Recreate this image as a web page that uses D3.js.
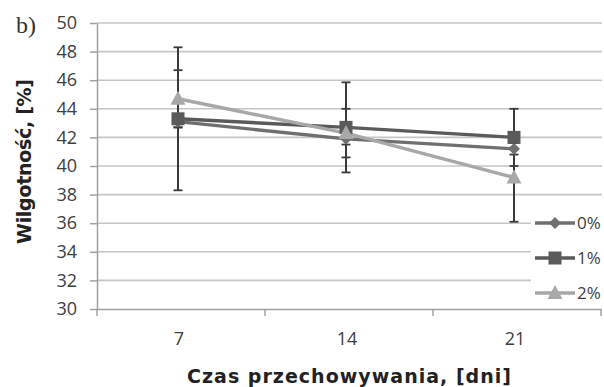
<!DOCTYPE html>
<html><head><meta charset="utf-8">
<script src="https://cdn.jsdelivr.net/npm/d3@7"></script>
<style>body{margin:0;background:#fff;} svg{display:block;}</style>
</head><body>
<svg id="c" width="604" height="387"></svg>
<script>
const categories = ["7", "14", "21"];
const yTicks = [30, 32, 34, 36, 38, 40, 42, 44, 46, 48, 50];
const seriesNames = ["0%", "1%", "2%"];
const values0 = [43.1, 41.9, 41.2];
const values1 = [43.3, 42.7, 42.0];
const values2 = [44.7, 42.3, 39.2];
const errors0 = [0.4, 0.4, 0.4];
const errors1 = [5.0, 3.15, 2.0];
const errors2 = [2.0, 1.7, 3.1];

const series = [
  {name: seriesNames[0], values: values0, errors: errors0, color: "#6f6f6f", shape: "diamond"},
  {name: seriesNames[1], values: values1, errors: errors1, color: "#5a5a5a", shape: "square"},
  {name: seriesNames[2], values: values2, errors: errors2, color: "#a8a8a8", shape: "triangle"}
];

const svg = d3.select("#c");
const L = 97, R = 602, T = 23, B = 309;
const x = d3.scaleBand().domain(categories).range([L, R - 1]).padding(0);
const y = d3.scaleLinear().domain([30, 50]).range([B, T]);
const cx = c => x(c) + x.bandwidth() / 2 - 3;
const tickFont = "Open Sans, DejaVu Sans, sans-serif";

// gridlines
svg.append("g").selectAll("line").data(yTicks.filter(t => t > 30)).join("line")
  .attr("x1", L).attr("x2", R).attr("y1", d => y(d)).attr("y2", d => y(d))
  .attr("stroke", "#c6c6c6").attr("stroke-width", 1.6);

// axes
const yAxis = d3.axisLeft(y).tickValues(yTicks).tickSize(7).tickSizeOuter(0);
const gy = svg.append("g").attr("transform", `translate(${L},0)`).call(yAxis);
gy.select(".domain").attr("stroke", "#a0a0a0").attr("stroke-width", 1.5);
gy.selectAll(".tick line").attr("stroke", "#a0a0a0").attr("stroke-width", 1.5);
gy.selectAll(".tick text").attr("x", -20).attr("font-family", tickFont)
  .attr("font-size", 18).attr("fill", "#404040");

const xAxis = d3.axisBottom(x).tickSize(0).tickSizeOuter(0);
const gx = svg.append("g").attr("transform", `translate(0,${B})`).call(xAxis);
gx.select(".domain").attr("stroke", "#a0a0a0").attr("stroke-width", 1.5);
gx.selectAll(".tick text").attr("dy", "0.35em").attr("y", 30).attr("font-family", tickFont)
  .attr("font-size", 18).attr("fill", "#404040").attr("x", -2);
// category boundary ticks
const bounds = categories.map(c => x(c)).concat([x(categories[categories.length-1]) + x.bandwidth()]);
svg.append("g").selectAll("line").data(bounds).join("line")
  .attr("x1", d => d).attr("x2", d => d).attr("y1", B).attr("y2", B + 7)
  .attr("stroke", "#a0a0a0").attr("stroke-width", 1.5);

// legend background
svg.append("rect").attr("x", 531).attr("y", 203).attr("width", 73).attr("height", 101).attr("fill", "#fff");

function marker(g, shape, color, px, py) {
  if (shape === "diamond") {
    g.append("path").attr("d", d3.symbol(d3.symbolDiamond2, 90)()).attr("transform", `translate(${px},${py})`).attr("fill", color);
  } else if (shape === "square") {
    g.append("rect").attr("x", px - 6.5).attr("y", py - 6.5).attr("width", 13).attr("height", 13).attr("fill", color);
  } else {
    g.append("path").attr("d", `M${px},${py-8}L${px+7.5},${py+6}L${px-7.5},${py+6}Z`).attr("fill", color);
  }
}

// error bars
const eg = svg.append("g");
series.forEach(s => {
  s.values.forEach((v, i) => {
    const px = cx(categories[i]);
    const e = s.errors[i];
    eg.append("line").attr("x1", px).attr("x2", px).attr("y1", y(v + e)).attr("y2", y(v - e))
      .attr("stroke", "#3a3a3a").attr("stroke-width", 2);
    [v + e, v - e].forEach(t => eg.append("line").attr("x1", px - 4.5).attr("x2", px + 4.5)
      .attr("y1", y(t)).attr("y2", y(t)).attr("stroke", "#3a3a3a").attr("stroke-width", 1.8));
  });
});

// lines + markers
const line = d3.line().x((d, i) => cx(categories[i])).y(d => y(d));
series.forEach(s => {
  svg.append("path").datum(s.values).attr("d", line).attr("fill", "none")
    .attr("stroke", s.color).attr("stroke-width", 3.4);
});
series.forEach(s => {
  const g = svg.append("g");
  s.values.forEach((v, i) => marker(g, s.shape, s.color, cx(categories[i]), y(v)));
});

// legend
const ly = [223, 258, 293];
series.forEach((s, i) => {
  const g = svg.append("g");
  g.append("line").attr("x1", 535).attr("x2", 575).attr("y1", ly[i]).attr("y2", ly[i])
    .attr("stroke", s.color).attr("stroke-width", 3.4);
  marker(g, s.shape, s.color, 555, ly[i]);
  g.append("text").attr("x", 577).attr("y", ly[i]).attr("dy", "0.36em")
    .attr("font-family", tickFont).attr("font-size", 17).attr("fill", "#404040").text(s.name);
});

// titles
svg.append("text").attr("x", 187).attr("y", 383)
  .attr("font-family", "DejaVu Sans, sans-serif").attr("font-weight", "bold").attr("font-size", 19)
  .attr("textLength", 324).attr("lengthAdjust", "spacing")
  .attr("fill", "#222").text("Czas przechowywania, [dni]");
svg.append("text").attr("transform", "translate(31,244) rotate(-90)")
  .attr("font-family", "DejaVu Sans, sans-serif").attr("font-weight", "bold").attr("font-size", 19)
  .attr("textLength", 165).attr("lengthAdjust", "spacing")
  .attr("fill", "#222").text("Wilgotność, [%]");
svg.append("text").attr("x", 16).attr("y", 33)
  .attr("font-family", "Liberation Serif, serif").attr("font-size", 24).attr("fill", "#333").text("b)");
</script>
</body></html>
